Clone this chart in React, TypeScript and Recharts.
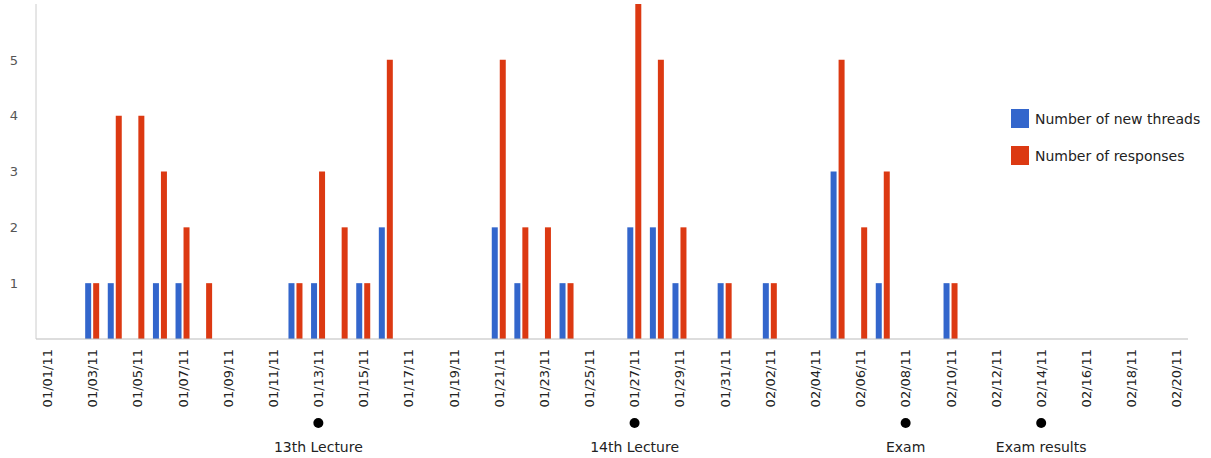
import React from "react";
import { BarChart, Bar, XAxis, YAxis, Legend } from "recharts";

const dates = [
  "01/01/11","01/02/11","01/03/11","01/04/11","01/05/11","01/06/11","01/07/11","01/08/11","01/09/11","01/10/11",
  "01/11/11","01/12/11","01/13/11","01/14/11","01/15/11","01/16/11","01/17/11","01/18/11","01/19/11","01/20/11",
  "01/21/11","01/22/11","01/23/11","01/24/11","01/25/11","01/26/11","01/27/11","01/28/11","01/29/11","01/30/11",
  "01/31/11","02/01/11","02/02/11","02/03/11","02/04/11","02/05/11","02/06/11","02/07/11","02/08/11","02/09/11",
  "02/10/11","02/11/11","02/12/11","02/13/11","02/14/11","02/15/11","02/16/11","02/17/11","02/18/11","02/19/11",
  "02/20/11",
];

const newThreads = [
  0,0,1,1,0,1,1,0,0,0,
  0,1,1,0,1,2,0,0,0,0,
  2,1,0,1,0,0,2,2,1,0,
  1,0,1,0,0,3,0,1,0,0,
  1,0,0,0,0,0,0,0,0,0,
  0,
];

const responses = [
  0,0,1,4,4,3,2,1,0,0,
  0,1,3,2,1,5,0,0,0,0,
  5,2,2,1,0,0,6,5,2,0,
  1,0,1,0,0,5,2,3,0,0,
  1,0,0,0,0,0,0,0,0,0,
  0,
];

const eventDates = ["01/13/11", "01/27/11", "02/08/11", "02/14/11"];
const eventLabels = ["13th Lecture", "14th Lecture", "Exam", "Exam results"];

const yTicks = [1, 2, 3, 4, 5];

const data = dates.map((d, i) => ({ date: d, threads: newThreads[i], responses: responses[i] }));

const FONT = "'DejaVu Sans', sans-serif";

const XTick = (props: any) => {
  const { x, y, payload } = props;
  const idx = eventDates.indexOf(payload.value);
  return (
    <g>
      <text
        transform={`translate(${x},${y + 10}) rotate(-90)`}
        textAnchor="end"
        dy="0.36em"
        fontSize={13}
        fontFamily={FONT}
        fill="#222"
      >
        {payload.value}
      </text>
      {idx >= 0 && (
        <g>
          <circle cx={x} cy={y + 84} r={5} fill="#000" />
          <text x={x} y={y + 108} dy="0.36em" textAnchor="middle" fontSize={14} fontFamily={FONT} fill="#222">
            {eventLabels[idx]}
          </text>
        </g>
      )}
    </g>
  );
};

const YTick = (props: any) => {
  const { y, payload } = props;
  return (
    <text x={14} y={y} dy="0.36em" textAnchor="middle" fontSize={13} fontFamily={FONT} fill="#555">
      {payload.value}
    </text>
  );
};

const LegendContent = (props: any) => {
  const { payload } = props;
  return (
    <div style={{ fontFamily: FONT, fontSize: 14, color: "#222" }}>
      {(payload || []).map((p: any, i: number) => (
        <div key={i} style={{ display: "flex", alignItems: "center", height: 19, marginBottom: 18 }}>
          <div style={{ width: 18, height: 19, background: p.color, marginRight: 6, flexShrink: 0 }} />
          <span style={{ whiteSpace: "nowrap" }}>{p.value}</span>
        </div>
      ))}
    </div>
  );
};

export default function App() {
  return (
    <div style={{ position: "absolute", left: 0, top: 0, width: 1211, height: 458, background: "#fff" }}>
      <BarChart
        width={1211}
        height={458}
        data={data}
        margin={{ top: 4, right: 23, left: 0, bottom: 0 }}
        barSize={6}
        barGap={2}
      >
        <XAxis
          dataKey="date"
          interval={1}
          tickLine={false}
          tickSize={0}
          tickMargin={0}
          height={119}
          axisLine={{ stroke: "#bbb" }}
          tick={<XTick />}
        />
        <YAxis
          width={36}
          domain={[0, 6]}
          ticks={yTicks}
          tickLine={false}
          axisLine={{ stroke: "#ccc" }}
          tick={<YTick />}
        />
        <Legend
          layout="vertical"
          align="center"
          verticalAlign="middle"
          content={<LegendContent />}
          wrapperStyle={{ left: 1011, top: 109, width: 200, height: 80 }}
        />
        <Bar dataKey="threads" name="Number of new threads" fill="#3366cc" isAnimationActive={false} />
        <Bar dataKey="responses" name="Number of responses" fill="#dc3912" isAnimationActive={false} />
      </BarChart>
    </div>
  );
}
